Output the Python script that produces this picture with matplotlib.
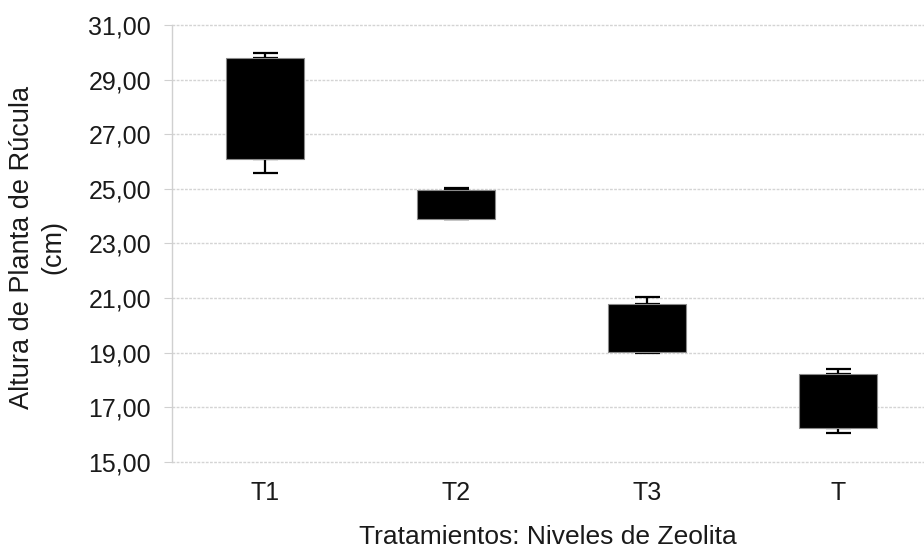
import matplotlib
matplotlib.use("Agg")
import matplotlib.pyplot as plt
from matplotlib.ticker import FuncFormatter

plt.rcParams['font.family'] = ['Liberation Sans', 'DejaVu Sans']

categories = ["T1", "T2", "T3", "T"]
whisker_low = [25.57, 23.89, 18.97, 16.04]
q1 = [26.08, 23.89, 19.02, 16.22]
q3 = [29.79, 24.95, 20.77, 18.20]
whisker_high = [29.97, 25.01, 21.04, 18.38]
yticks = [15, 17, 19, 21, 23, 25, 27, 29, 31]

fig = plt.figure(figsize=(9.24, 5.54), dpi=100)
ax = fig.add_axes([172/924, 1 - 461.7/554, 1 - 172/924, (461.7 - 25)/554])

x = list(range(len(categories)))
heights = [b - a for a, b in zip(q1, q3)]

# whiskers (drawn first so box covers them)
up_err = [[0]*len(x), [h - t for h, t in zip(whisker_high, q3)]]
lo_err = [[b - l for b, l in zip(q1, whisker_low)], [0]*len(x)]
ax.errorbar(x, q3, yerr=up_err, fmt='none', ecolor='black', elinewidth=1.6,
            capsize=9, capthick=1.6, zorder=3)
ax.errorbar(x, q1, yerr=lo_err, fmt='none', ecolor='black', elinewidth=1.6,
            capsize=9, capthick=1.6, zorder=3)
ax.bar(x, heights, bottom=q1, width=0.41, color='black', edgecolor='#8a8a8a',
       linewidth=0.8, zorder=4)

ax.set_xlim(-0.487, 3.45)
ax.set_ylim(15, 31)
ax.set_yticks(yticks)
ax.yaxis.set_major_formatter(FuncFormatter(lambda v, p: f"{v:.2f}".replace('.', ',')))
ax.set_xticks(x)
ax.set_xticklabels(categories)

ax.grid(axis='y', color='#d4d4d4', linestyle=(0, (2, 1)), linewidth=1.0, zorder=0)
for gl in ax.get_ygridlines():
    gl.set_clip_on(False)
ax.set_axisbelow(True)
for s in ['top', 'right', 'bottom']:
    ax.spines[s].set_visible(False)
ax.spines['left'].set_color('#d0d0d0')
ax.spines['left'].set_linewidth(1.0)

ax.tick_params(axis='y', length=6, color='#d0d0d0', labelsize=18, pad=9, labelcolor='#1a1a1a')
ax.tick_params(axis='x', length=0, labelsize=18, pad=14, labelcolor='#1a1a1a')

ax.set_xlabel("Tratamientos: Niveles de Zeolita", fontsize=19, labelpad=14, color='#1a1a1a')
fig.text(9/924, 1 - 247/554, "Altura de Planta de Rúcula\n(cm)", rotation=90,
         ha='left', va='center', multialignment='center', fontsize=19.5, color='#1a1a1a',
         linespacing=1.25)

fig.savefig("out.png", dpi=100)
